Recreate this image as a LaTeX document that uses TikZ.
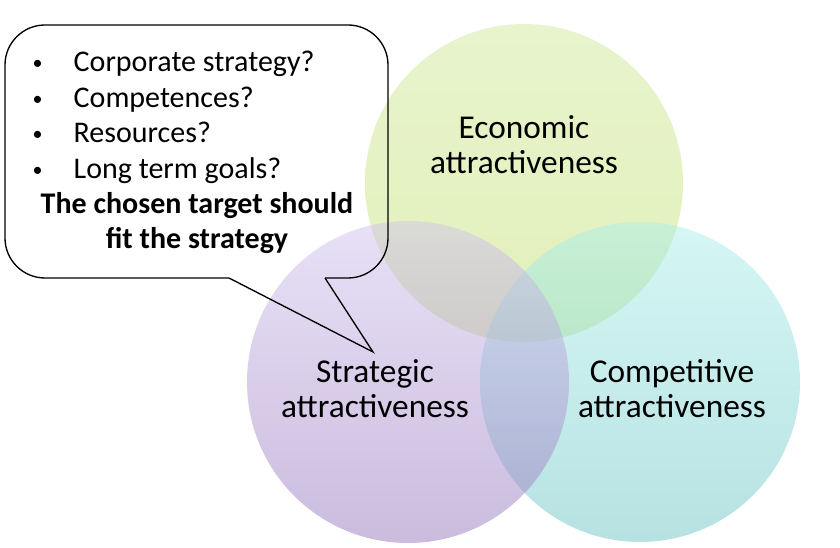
\documentclass[tikz,border=0pt]{standalone}
\usepackage{fontspec}
\setmainfont{Carlito}
\usepackage{xcolor}
\usetikzlibrary{positioning}
\definecolor{econtop}{RGB}{209,233,155}
\definecolor{econbot}{RGB}{197,225,115}
\definecolor{strattop}{RGB}{209,195,239}
\definecolor{stratbot}{RGB}{151,121,189}
\definecolor{comptop}{RGB}{171,239,235}
\definecolor{compbot}{RGB}{111,197,197}
\tikzset{
    vennlabel/.style={anchor=base, align=center, font=\fontsize{25}{26.4}\selectfont},
    bulletitem/.style={anchor=base west, font=\fontsize{22.5}{26.4}\selectfont},
    bulletdot/.style={anchor=base west, font=\fontsize{15}{18}\selectfont},
    calloutline/.style={line width=1pt, black}
}

\begin{document}
\begin{tikzpicture}[x=0.75pt, y=-0.75pt]
    \useasboundingbox (0,0) rectangle (840,548);
    % Three circles
    \shade[top color=econtop, bottom color=econbot, fill opacity=0.5] (524,183) circle (159);
    \shade[top color=comptop, bottom color=compbot, fill opacity=0.5] (640,382) circle (160);
    \shade[top color=strattop, bottom color=stratbot, fill opacity=0.5] (408,382) circle (161);

    % Circle labels (base = last line)
    \node[vennlabel] (econ) at (524,174) {Economic\\attractiveness};
    \node[vennlabel] (strat) at (375,418) {Strategic\\attractiveness};
    \node[vennlabel] (comp) at (672,418) {Competitive\\attractiveness};

    % Callout
    \coordinate (tipL) at (229,278);
    \coordinate (tipR) at (325,278);
    \coordinate (tip) at (373,352);
    \draw[calloutline, rounded corners=30pt] (tipR) -- (388,278) -- (388,25) -- (5,25) -- (5,278) -- (tipL);
    \draw[calloutline, line join=miter] (tipL) -- (tip) -- (tipR);

    % Callout text
    \foreach \txt [count=\i] in {Corporate strategy?, Competences?, Resources?, Long term goals?} {
        \node[bulletdot] (dot\i) at (28,{70+35.5*(\i-1)}) {•};
        \node[bulletitem] (item\i) at (69,{72+35.5*(\i-1)}) {\txt};
    }
    \node[vennlabel, font=\fontsize{22.5}{26.4}\selectfont\bfseries] (fit) at (197,249) {The chosen target should\\fit the strategy};
\end{tikzpicture}
\end{document}
